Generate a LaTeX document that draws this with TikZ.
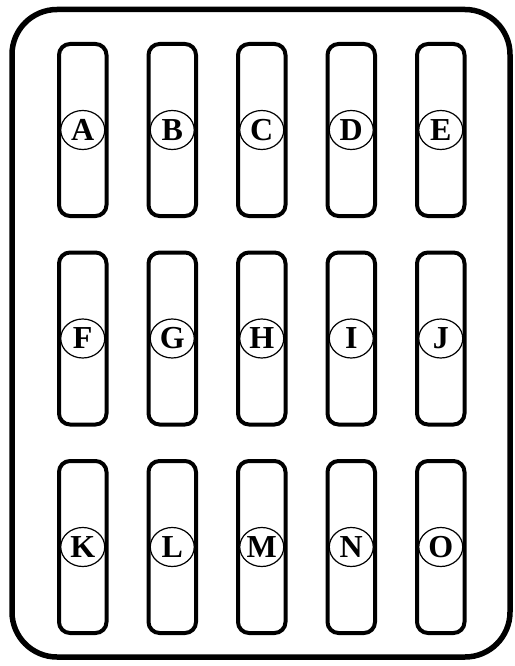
\documentclass[tikz,border=0pt]{standalone}
\usepackage{fontspec}
\setmainfont{Liberation Serif}
\usepackage{tikz}
\usetikzlibrary{positioning,shapes.geometric}

\begin{document}
\begin{tikzpicture}[
  x=1pt,y=-1pt,
  node distance=32.5pt and 38pt,
  slot/.style={draw,line width=4pt,rounded corners=11pt,minimum width=47.5pt,minimum height=172pt,inner sep=0pt},
  tag/.style={draw,ellipse,fill=white,line width=1.2pt,minimum width=44pt,minimum height=39pt,inner sep=0pt,font=\fontsize{32}{32}\selectfont\bfseries},
  frame/.style={line width=5.5pt,rounded corners=45pt}
]
\useasboundingbox (0,0) rectangle (514,666);
\draw[frame] (12,9.5) rectangle (510,657);
% upper row
\node[slot] (slotA) at (82.75,130) {};
\node[slot,right=of slotA] (slotB) {};
\node[slot,right=of slotB] (slotC) {};
\node[slot,right=of slotC] (slotD) {};
\node[slot,right=of slotD] (slotE) {};
% middle row
\node[slot,below=of slotA] (slotF) {};
\node[slot,right=of slotF] (slotG) {};
\node[slot,right=of slotG] (slotH) {};
\node[slot,right=of slotH] (slotI) {};
\node[slot,right=of slotI] (slotJ) {};
% lower row
\node[slot,below=of slotF] (slotK) {};
\node[slot,right=of slotK] (slotL) {};
\node[slot,right=of slotL] (slotM) {};
\node[slot,right=of slotM] (slotN) {};
\node[slot,right=of slotN] (slotO) {};
% letters
\node[tag] (tagA) at (slotA) {A};
\node[tag] (tagB) at (slotB) {B};
\node[tag] (tagC) at (slotC) {C};
\node[tag] (tagD) at (slotD) {D};
\node[tag] (tagE) at (slotE) {E};
\node[tag] (tagF) at (slotF) {F};
\node[tag] (tagG) at (slotG) {G};
\node[tag] (tagH) at (slotH) {H};
\node[tag] (tagI) at (slotI) {I};
\node[tag] (tagJ) at (slotJ) {J};
\node[tag] (tagK) at (slotK) {K};
\node[tag] (tagL) at (slotL) {L};
\node[tag] (tagM) at (slotM) {M};
\node[tag] (tagN) at (slotN) {N};
\node[tag] (tagO) at (slotO) {O};
\end{tikzpicture}
\end{document}
